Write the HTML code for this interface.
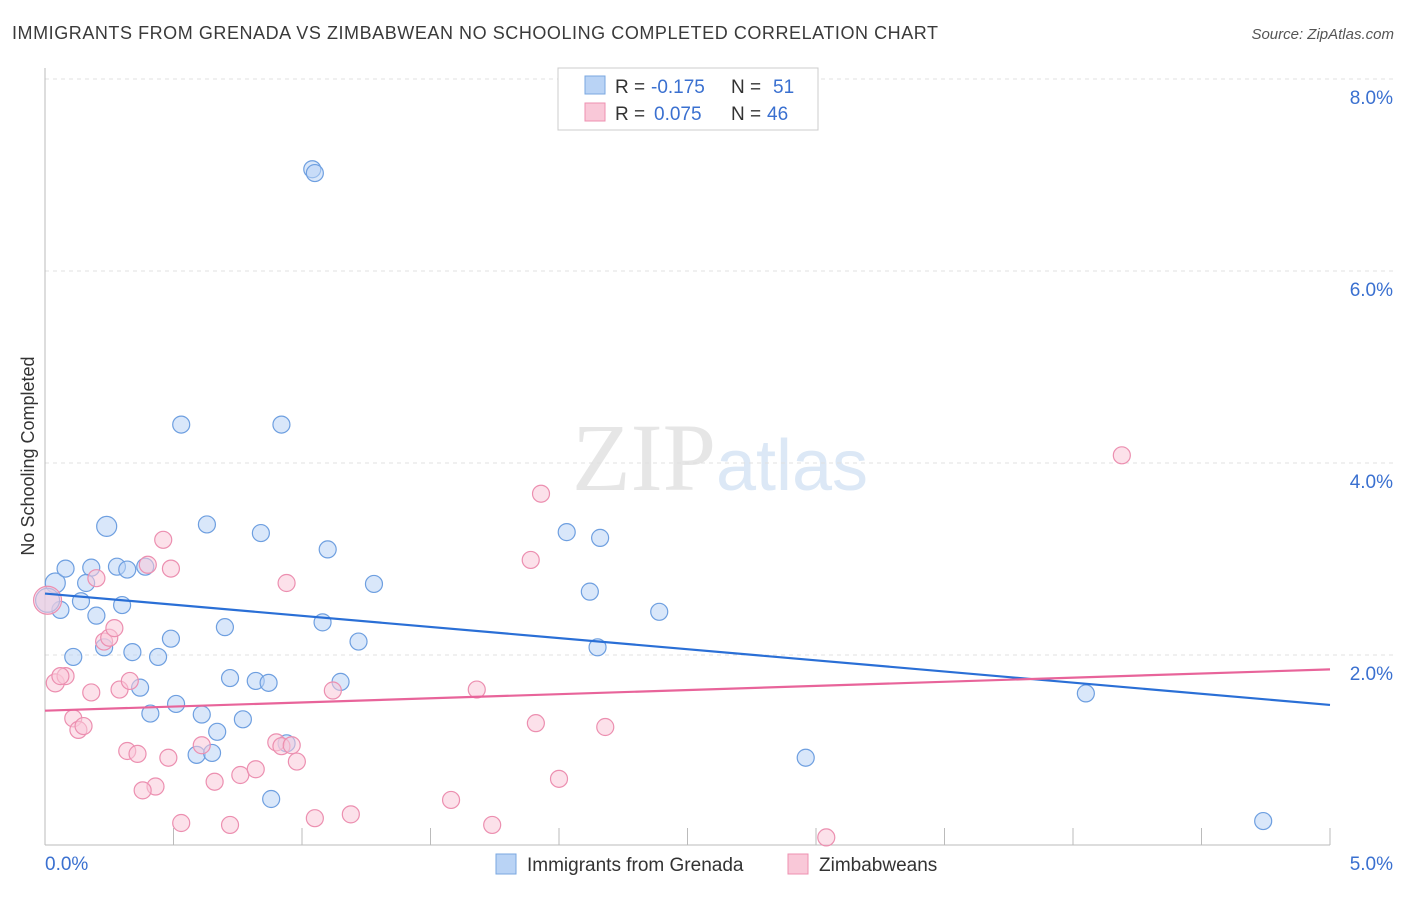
<!DOCTYPE html>
<html><head><meta charset="utf-8"><style>
body{margin:0;background:#fff;font-family:"Liberation Sans",sans-serif}
</style></head><body>
<svg id="chart" width="1406" height="892" xmlns="http://www.w3.org/2000/svg" font-family="Liberation Sans, sans-serif">
<text x="12" y="39" font-size="18" fill="#3a3a3a" textLength="926">IMMIGRANTS FROM GRENADA VS ZIMBABWEAN NO SCHOOLING COMPLETED CORRELATION CHART</text>
<text x="1394" y="39" font-size="15" fill="#555" text-anchor="end" font-style="italic">Source: ZipAtlas.com</text>
<text x="720" y="490" font-size="96" text-anchor="middle" fill="#e6e6e6" font-family="Liberation Serif, serif">ZIP<tspan fill="#dce8f6" font-family="Liberation Sans, sans-serif" font-size="72">atlas</tspan></text>
<text transform="translate(34,456) rotate(-90)" font-size="18" fill="#333" text-anchor="middle">No Schooling Completed</text>
<g id="grid"></g><g id="axes"></g><g id="marks"></g>
<g>
<rect x="558" y="68" width="260" height="62" fill="#fff" stroke="#ccc"/>
<rect x="585" y="76" width="20" height="18" fill="#b9d3f5" stroke="#7aa7e0"/>
<rect x="585" y="103" width="20" height="18" fill="#f9c8d8" stroke="#ee90b0"/>
<text x="615" y="93" font-size="19" fill="#333">R =</text>
<text x="651" y="93" font-size="19" fill="#3a70d0">-0.175</text>
<text x="731" y="93" font-size="19" fill="#333">N =</text>
<text x="773" y="93" font-size="19" fill="#3a70d0">51</text>
<text x="615" y="120" font-size="19" fill="#333">R =</text>
<text x="654" y="120" font-size="19" fill="#3a70d0">0.075</text>
<text x="731" y="120" font-size="19" fill="#333">N =</text>
<text x="767" y="120" font-size="19" fill="#3a70d0">46</text>
</g>
<g>
<rect x="496" y="854" width="20" height="20" fill="#b9d3f5" stroke="#7aa7e0"/>
<text x="527" y="871" font-size="19" fill="#333">Immigrants from Grenada</text>
<rect x="788" y="854" width="20" height="20" fill="#f9c8d8" stroke="#ee90b0"/>
<text x="819" y="871" font-size="19" fill="#333">Zimbabweans</text>
</g>
</svg>
<script>
const yTicks=[0,2,4,6,8];
const yTickLabels=["","2.0%","4.0%","6.0%","8.0%"];
const xTickLabels=["0.0%","5.0%"];
const blueX=[0.04,0.06,0.01,0.08,0.18,0.24,0.16,0.14,0.2,0.11,0.23,0.3,0.28,0.32,0.39,0.34,0.44,0.49,0.37,0.41,0.51,0.53,0.63,0.70,0.61,0.67,0.59,0.65,0.72,0.77,0.82,0.87,0.84,0.92,1.04,1.05,1.10,1.08,1.15,1.22,1.28,0.94,0.88,2.03,2.16,2.12,2.15,2.39,2.96,4.05,4.74];
const blueY=[2.75,2.47,2.57,2.9,2.91,3.34,2.75,2.56,2.41,1.98,2.08,2.52,2.92,2.89,2.92,2.03,1.98,2.17,1.66,1.39,1.49,4.4,3.36,2.29,1.38,1.2,0.96,0.98,1.76,1.33,1.73,1.71,3.27,4.4,7.06,7.02,3.1,2.34,1.72,2.14,2.74,1.08,0.5,3.28,3.22,2.66,2.08,2.45,0.93,1.6,0.27];
const blueR=[10,8.5,12,8.5,8.5,10,8.5,8.5,8.5,8.5,8.5,8.5,8.5,8.5,8.5,8.5,8.5,8.5,8.5,8.5,8.5,8.5,8.5,8.5,8.5,8.5,8.5,8.5,8.5,8.5,8.5,8.5,8.5,8.5,8.5,8.5,8.5,8.5,8.5,8.5,8.5,8.5,8.5,8.5,8.5,8.5,8.5,8.5,8.5,8.5,8.5];
const pinkX=[0.01,0.04,0.08,0.06,0.2,0.11,0.13,0.15,0.18,0.23,0.25,0.27,0.29,0.33,0.32,0.36,0.40,0.46,0.49,0.48,0.43,0.38,0.53,0.61,0.66,0.72,0.76,0.82,0.94,0.9,0.92,0.96,0.98,1.05,1.12,1.19,1.58,1.68,1.74,1.89,1.93,1.91,2.0,2.18,3.04,4.19];
const pinkY=[2.57,1.71,1.78,1.78,2.8,1.34,1.22,1.26,1.61,2.14,2.18,2.28,1.64,1.73,1.0,0.97,2.94,3.2,2.9,0.93,0.63,0.59,0.25,1.06,0.68,0.23,0.75,0.81,2.75,1.09,1.05,1.06,0.89,0.3,1.63,0.34,0.49,1.64,0.23,2.99,3.68,1.29,0.71,1.25,0.1,4.08];
const pinkR=[14,9,8.5,8.5,8.5,8.5,8.5,8.5,8.5,8.5,8.5,8.5,8.5,8.5,8.5,8.5,8.5,8.5,8.5,8.5,8.5,8.5,8.5,8.5,8.5,8.5,8.5,8.5,8.5,8.5,8.5,8.5,8.5,8.5,8.5,8.5,8.5,8.5,8.5,8.5,8.5,8.5,8.5,8.5,8.5,8.5];
const blueTrend=[2.64,1.48];
const pinkTrend=[1.42,1.85];
const NS="http://www.w3.org/2000/svg";
const X0=45,X1=1330,Y0=847;
const xs=v=>X0+(X1-X0)*v/5;
const ys=v=>Y0-96*v;
function mk(t,a,p){const e=document.createElementNS(NS,t);for(const k in a)e.setAttribute(k,a[k]);p.appendChild(e);return e;}
const grid=document.getElementById('grid'),axes=document.getElementById('axes'),marks=document.getElementById('marks');
yTicks.forEach((v,i)=>{if(v>0){const l=mk('line',{x1:X0,x2:1395,y1:ys(v),y2:ys(v),stroke:'#e0e0e0','stroke-dasharray':'4,4'},grid);


const t=mk('text',{x:1393,y:ys(v)+25,'font-size':19,fill:'#3a70d0','text-anchor':'end'},axes);t.textContent=yTickLabels[i];

}});
const ax=mk('line',{x1:X0,x2:X0,y1:68,y2:845,stroke:'#bbb'},axes);


const bx=mk('line',{x1:X0,x2:X1,y1:845,y2:845,stroke:'#bbb'},axes);


for(let i=0;i<=10;i++){const t=mk('line',{x1:xs(i/2),x2:xs(i/2),y1:828,y2:845,stroke:'#bbb'},axes);

}
[[0,'start'],[5,'end']].forEach((d,i)=>{const t=mk('text',{x:i?1393:45,y:870,'font-size':19,fill:'#3a70d0','text-anchor':d[1]},axes);t.textContent=xTickLabels[i];

});
function pts(X,Y,R,f,s,n){X.forEach((v,i)=>{const c=mk('circle',{cx:xs(v),cy:ys(Y[i]),r:R[i],fill:f,stroke:s,'stroke-width':1.2,'fill-opacity':0.55},marks);

});}
pts(blueX,blueY,blueR,'#b9d3f5','#6e9fe0','grenada-point');
pts(pinkX,pinkY,pinkR,'#f9c8d8','#ec8fb0','zimbabwean-point');
const bl=mk('line',{x1:xs(0),x2:xs(5),y1:ys(blueTrend[0]),y2:ys(blueTrend[1]),stroke:'#2a6fd6','stroke-width':2.2},marks);


const pl=mk('line',{x1:xs(0),x2:xs(5),y1:ys(pinkTrend[0]),y2:ys(pinkTrend[1]),stroke:'#e8649a','stroke-width':2.2},marks);


</script>
</body></html>
